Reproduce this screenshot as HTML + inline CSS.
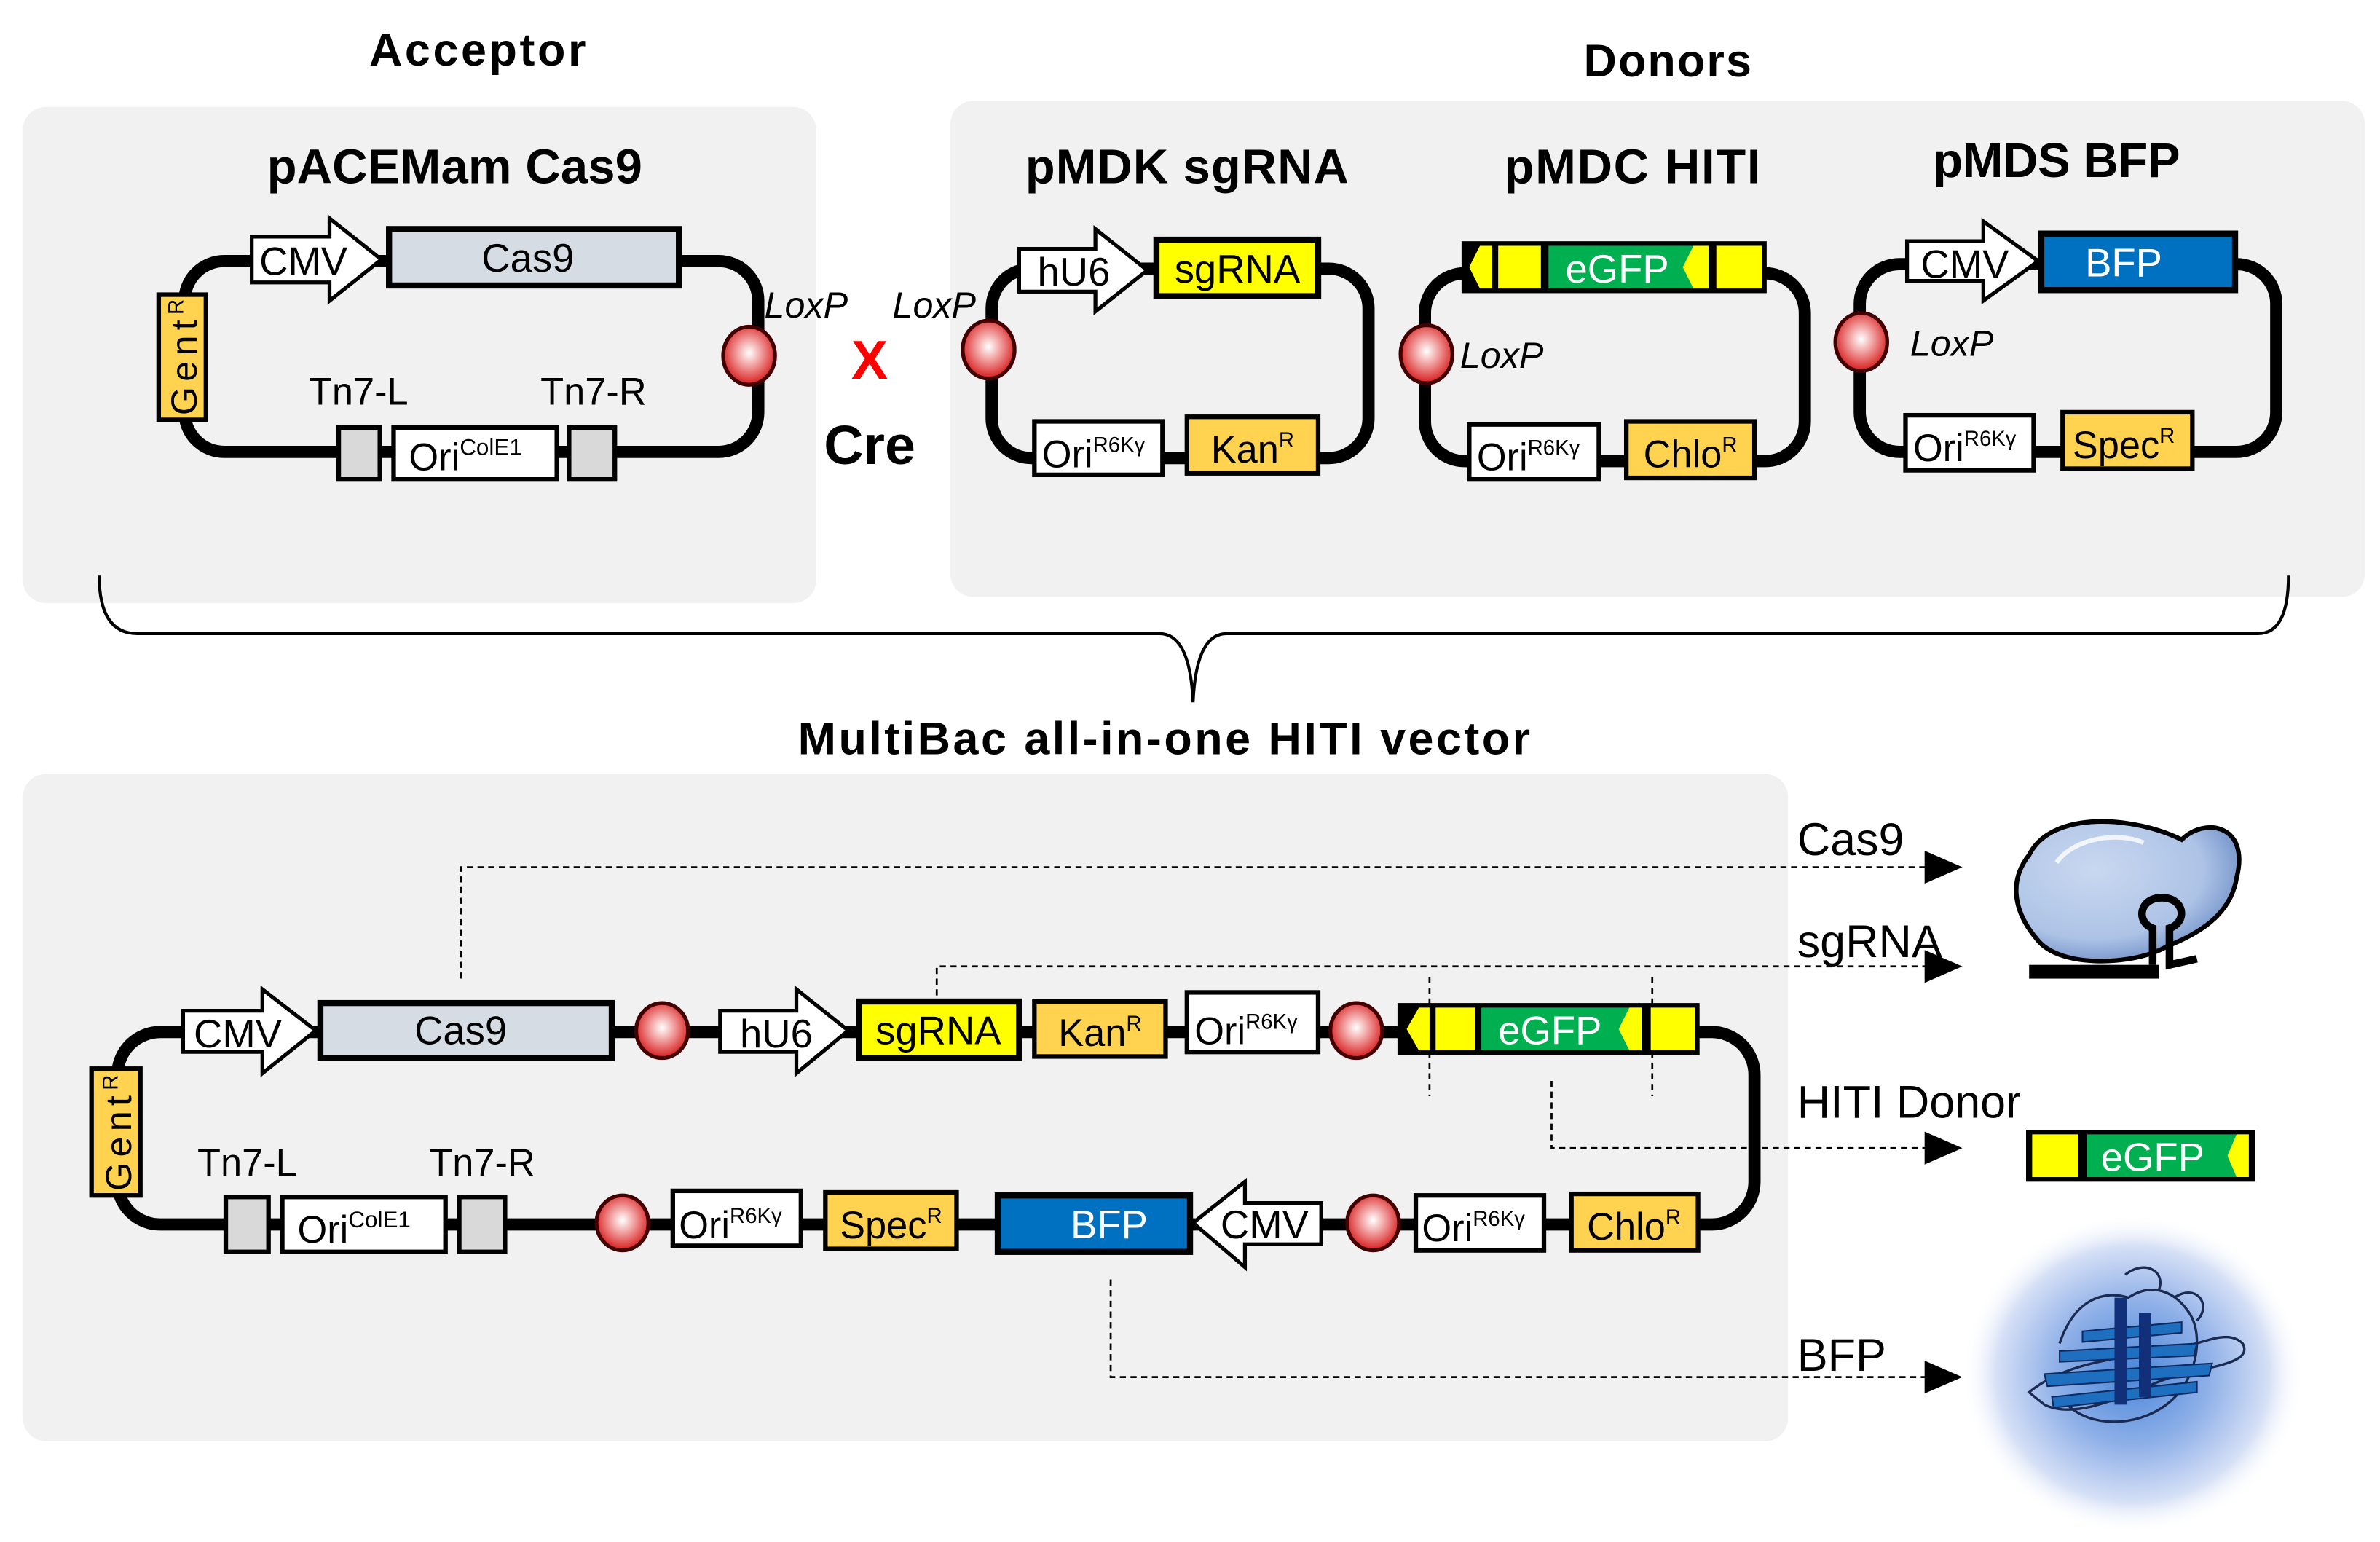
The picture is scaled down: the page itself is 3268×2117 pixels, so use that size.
<!DOCTYPE html>
<html><head><meta charset="utf-8"><style>
html,body{margin:0;padding:0;background:#fff}
svg{display:block}
text{font-family:"Liberation Sans Narrow","Liberation Sans",sans-serif}
.b{font-weight:bold}
</style></head><body>
<svg width="3268" height="2117" viewBox="0 0 1560 1010" preserveAspectRatio="none" xmlns="http://www.w3.org/2000/svg">
<defs>
<radialGradient id="lx" cx="0.5" cy="0.45" r="0.55">
<stop offset="0" stop-color="#fff"/><stop offset="0.35" stop-color="#f4b0b0"/><stop offset="1" stop-color="#d81c1c"/>
</radialGradient>
<radialGradient id="glow" cx="0.5" cy="0.5" r="0.5">
<stop offset="0" stop-color="#4a86da"/><stop offset="0.45" stop-color="#8fb0e8"/><stop offset="0.8" stop-color="#d6e0f6"/><stop offset="1" stop-color="#ffffff" stop-opacity="0"/>
</radialGradient>
<radialGradient id="cas" cx="0.35" cy="0.35" r="0.7">
<stop offset="0" stop-color="#c9d8f0"/><stop offset="0.7" stop-color="#adc3e6"/><stop offset="1" stop-color="#6f8fc8"/>
</radialGradient>
<marker id="ar" markerWidth="10" markerHeight="10" refX="9" refY="5" orient="auto" markerUnits="userSpaceOnUse"><path d="M0,0 L10,5 L0,10z" fill="#000"/></marker>
</defs>

<text x="313" y="43" font-size="30" class="b" text-anchor="middle" textLength="142">Acceptor</text>
<text x="1093" y="50" font-size="30" class="b" text-anchor="middle" textLength="110">Donors</text>

<rect x="15" y="70" width="520" height="325" rx="15" fill="#f1f1f1"/>
<rect x="623" y="66" width="927" height="325" rx="15" fill="#f1f1f1"/>

<text x="298" y="120" font-size="32" class="b" text-anchor="middle" textLength="246">pACEMam Cas9</text>
<text x="778" y="120" font-size="32" class="b" text-anchor="middle" textLength="212">pMDK sgRNA</text>
<text x="1070" y="120" font-size="32" class="b" text-anchor="middle" textLength="168">pMDC HITI</text>
<text x="1348" y="116" font-size="32" class="b" text-anchor="middle" textLength="162">pMDS BFP</text>

<rect x="121" y="171" width="376" height="125" rx="26" fill="none" stroke="#000" stroke-width="8"/>
<polygon points="165,155 216,155 216,143 250,170 216,197 216,185 165,185" fill="#fff" stroke="#000" stroke-width="2.5"/>
<text x="170" y="180" font-size="26">CMV</text>
<rect x="255" y="150" width="190" height="37" fill="#d6dce4" stroke="#000" stroke-width="4"/>
<text x="346" y="178" font-size="26" text-anchor="middle">Cas9</text>
<rect x="104" y="193" width="31" height="82" fill="#ffd24f" stroke="#000" stroke-width="3"/>
<text transform="translate(129,272) rotate(-90)" font-size="24" textLength="76">Gent<tspan font-size="14" dy="-9">R</tspan></text>
<rect x="222" y="280" width="27" height="34" fill="#d9d9d9" stroke="#000" stroke-width="3"/>
<rect x="258" y="280" width="107" height="34" fill="#fff" stroke="#000" stroke-width="3"/>
<text x="268" y="308" font-size="25">Ori<tspan font-size="15" dy="-10">ColE1</tspan></text>
<rect x="373" y="280" width="30" height="34" fill="#d9d9d9" stroke="#000" stroke-width="3"/>
<text x="235" y="265" font-size="25" text-anchor="middle">Tn7-L</text>
<text x="389" y="265" font-size="25" text-anchor="middle">Tn7-R</text>
<ellipse cx="491" cy="233" rx="17" ry="19" fill="url(#lx)" stroke="#400" stroke-width="2.5"/>
<text x="501" y="208" font-size="24" font-style="italic">LoxP</text>

<text x="585" y="208" font-size="24" font-style="italic">LoxP</text>
<text x="570" y="248" font-size="36" class="b" fill="#ff0000" text-anchor="middle">X</text>
<text x="570" y="304" font-size="36" class="b" text-anchor="middle">Cre</text>

<rect x="650" y="176" width="247" height="124" rx="26" fill="none" stroke="#000" stroke-width="8"/>
<polygon points="668,163 718,163 718,150 752,177 718,204 718,191 668,191" fill="#fff" stroke="#000" stroke-width="2.5"/>
<text x="680" y="187" font-size="26">hU6</text>
<rect x="758" y="157" width="106" height="37" fill="#ffff00" stroke="#000" stroke-width="4"/>
<text x="811" y="185" font-size="26" text-anchor="middle">sgRNA</text>
<ellipse cx="648" cy="229" rx="17" ry="19" fill="url(#lx)" stroke="#400" stroke-width="2.5"/>
<rect x="678" y="276" width="84" height="35" fill="#fff" stroke="#000" stroke-width="3"/>
<text x="683" y="306" font-size="25">Ori<tspan font-size="14" dy="-10">R6Kγ</tspan></text>
<rect x="778" y="273" width="86" height="37" fill="#ffd24f" stroke="#000" stroke-width="3"/>
<text x="821" y="303" font-size="25" text-anchor="middle">Kan<tspan font-size="14" dy="-10">R</tspan></text>

<rect x="934" y="179" width="249" height="123" rx="26" fill="none" stroke="#000" stroke-width="8"/>
<g>
<rect x="958" y="158" width="200" height="34" fill="#000"/>
<polygon points="970,161 978,161 978,189 970,189 963,175" fill="#ffff00"/>
<rect x="982" y="161" width="28" height="28" fill="#ffff00"/>
<rect x="1015" y="161" width="105" height="28" fill="#00b050"/>
<polygon points="1120,161 1110,161 1103,175 1110,189 1120,189" fill="#ffff00"/>
<rect x="1125" y="161" width="30" height="28" fill="#ffff00"/>
<text x="1060" y="185" font-size="26" fill="#fff" text-anchor="middle">eGFP</text>
</g>
<ellipse cx="935" cy="232" rx="17" ry="19" fill="url(#lx)" stroke="#400" stroke-width="2.5"/>
<text x="957" y="241" font-size="24" font-style="italic">LoxP</text>
<rect x="963" y="278" width="85" height="36" fill="#fff" stroke="#000" stroke-width="3"/>
<text x="968" y="308" font-size="25">Ori<tspan font-size="14" dy="-10">R6Kγ</tspan></text>
<rect x="1066" y="276" width="84" height="37" fill="#ffd24f" stroke="#000" stroke-width="3"/>
<text x="1108" y="306" font-size="25" text-anchor="middle">Chlo<tspan font-size="14" dy="-10">R</tspan></text>

<rect x="1219" y="173" width="273" height="123" rx="26" fill="none" stroke="#000" stroke-width="8"/>
<polygon points="1250,158 1300,158 1300,145 1336,171 1300,197 1300,184 1250,184" fill="#fff" stroke="#000" stroke-width="2.5"/>
<text x="1259" y="182" font-size="26">CMV</text>
<rect x="1338" y="153" width="127" height="37" fill="#0070c0" stroke="#000" stroke-width="4"/>
<text x="1392" y="181" font-size="26" fill="#fff" text-anchor="middle">BFP</text>
<ellipse cx="1220" cy="224" rx="17" ry="19" fill="url(#lx)" stroke="#400" stroke-width="2.5"/>
<text x="1252" y="233" font-size="24" font-style="italic">LoxP</text>
<rect x="1249" y="272" width="84" height="36" fill="#fff" stroke="#000" stroke-width="3"/>
<text x="1254" y="302" font-size="25">Ori<tspan font-size="14" dy="-10">R6Kγ</tspan></text>
<rect x="1352" y="270" width="85" height="37" fill="#ffd24f" stroke="#000" stroke-width="3"/>
<text x="1392" y="300" font-size="25" text-anchor="middle">Spec<tspan font-size="14" dy="-10">R</tspan></text>

<path d="M65,377 Q65,415 90,415 L760,415 Q780,415 782,460 Q784,415 804,415 L1480,415 Q1500,415 1500,377" fill="none" stroke="#000" stroke-width="2"/>

<text x="763" y="494" font-size="30" class="b" text-anchor="middle" textLength="480">MultiBac all-in-one HITI vector</text>

<rect x="15" y="507" width="1157" height="437" rx="15" fill="#f1f1f1"/>

<g fill="none" stroke="#000" stroke-width="1.3" stroke-dasharray="4,3">
<path d="M302,641 L302,568 L1276,568" marker-end="url(#ar)"/>
<path d="M614,652 L614,633 L1276,633" marker-end="url(#ar)"/>
<path d="M1017,708 L1017,752 L1276,752" marker-end="url(#ar)"/>
<path d="M728,838 L728,902 L1276,902" marker-end="url(#ar)"/>
<path d="M937,640 L937,718"/>
<path d="M1083,640 L1083,718"/>
</g>
<g stroke="#000"><path d="M1262,558 L1285,568 L1262,578z"/><path d="M1262,623 L1285,633 L1262,643z"/><path d="M1262,742 L1285,752 L1262,762z"/><path d="M1262,892 L1285,902 L1262,912z"/></g>

<text x="1178" y="560" font-size="30">Cas9</text>
<text x="1178" y="627" font-size="30">sgRNA</text>
<text x="1178" y="732" font-size="30">HITI Donor</text>
<text x="1178" y="898" font-size="30">BFP</text>

<rect x="77" y="676" width="1073" height="126" rx="28" fill="none" stroke="#000" stroke-width="8"/>
<polygon points="120,662 172,662 172,648 207,675 172,703 172,689 120,689" fill="#fff" stroke="#000" stroke-width="2.5"/>
<text x="127" y="686" font-size="26">CMV</text>
<rect x="210" y="657" width="191" height="36" fill="#d6dce4" stroke="#000" stroke-width="4"/>
<text x="302" y="684" font-size="26" text-anchor="middle">Cas9</text>
<ellipse cx="434" cy="675" rx="17" ry="18" fill="url(#lx)" stroke="#400" stroke-width="2.5"/>
<polygon points="472,662 522,662 522,648 556,675 522,703 522,689 472,689" fill="#fff" stroke="#000" stroke-width="2.5"/>
<text x="485" y="686" font-size="26">hU6</text>
<rect x="563" y="656" width="105" height="37" fill="#ffff00" stroke="#000" stroke-width="4"/>
<text x="615" y="684" font-size="26" text-anchor="middle">sgRNA</text>
<rect x="678" y="656" width="86" height="36" fill="#ffd24f" stroke="#000" stroke-width="3"/>
<text x="721" y="685" font-size="25" text-anchor="middle">Kan<tspan font-size="14" dy="-10">R</tspan></text>
<rect x="778" y="650" width="86" height="39" fill="#fff" stroke="#000" stroke-width="3"/>
<text x="783" y="684" font-size="25">Ori<tspan font-size="14" dy="-10">R6Kγ</tspan></text>
<ellipse cx="889" cy="675" rx="17" ry="18" fill="url(#lx)" stroke="#400" stroke-width="2.5"/>
<g>
<rect x="916" y="657" width="198" height="34" fill="#000"/>
<polygon points="930,660 937,660 937,688 930,688 922,674" fill="#ffff00"/>
<rect x="941" y="660" width="26" height="28" fill="#ffff00"/>
<rect x="971" y="660" width="105" height="28" fill="#00b050"/>
<polygon points="1076,660 1068,660 1061,674 1068,688 1076,688" fill="#ffff00"/>
<rect x="1082" y="660" width="29" height="28" fill="#ffff00"/>
<text x="1016" y="684" font-size="26" fill="#fff" text-anchor="middle">eGFP</text>
</g>
<rect x="60" y="700" width="32" height="83" fill="#ffd24f" stroke="#000" stroke-width="3"/>
<text transform="translate(86,780) rotate(-90)" font-size="24" textLength="76">Gent<tspan font-size="14" dy="-9">R</tspan></text>
<text x="162" y="770" font-size="25" text-anchor="middle">Tn7-L</text>
<text x="316" y="770" font-size="25" text-anchor="middle">Tn7-R</text>
<rect x="148" y="784" width="28" height="36" fill="#d9d9d9" stroke="#000" stroke-width="3"/>
<rect x="185" y="784" width="107" height="36" fill="#fff" stroke="#000" stroke-width="3"/>
<text x="195" y="814" font-size="25">Ori<tspan font-size="15" dy="-10">ColE1</tspan></text>
<rect x="301" y="784" width="30" height="36" fill="#d9d9d9" stroke="#000" stroke-width="3"/>
<ellipse cx="408" cy="801" rx="17" ry="18" fill="url(#lx)" stroke="#400" stroke-width="2.5"/>
<rect x="441" y="780" width="84" height="36" fill="#fff" stroke="#000" stroke-width="3"/>
<text x="445" y="811" font-size="25">Ori<tspan font-size="14" dy="-10">R6Kγ</tspan></text>
<rect x="541" y="781" width="86" height="37" fill="#ffd24f" stroke="#000" stroke-width="3"/>
<text x="584" y="811" font-size="25" text-anchor="middle">Spec<tspan font-size="14" dy="-10">R</tspan></text>
<rect x="654" y="783" width="126" height="37" fill="#0070c0" stroke="#000" stroke-width="4"/>
<text x="727" y="811" font-size="26" fill="#fff" text-anchor="middle">BFP</text>
<polygon points="866,788 816,788 816,774 782,801 816,830 816,815 866,815" fill="#fff" stroke="#000" stroke-width="2.5"/>
<text x="800" y="811" font-size="26">CMV</text>
<ellipse cx="900" cy="801" rx="17" ry="18" fill="url(#lx)" stroke="#400" stroke-width="2.5"/>
<rect x="928" y="783" width="84" height="36" fill="#fff" stroke="#000" stroke-width="3"/>
<text x="932" y="813" font-size="25">Ori<tspan font-size="14" dy="-10">R6Kγ</tspan></text>
<rect x="1030" y="782" width="83" height="37" fill="#ffd24f" stroke="#000" stroke-width="3"/>
<text x="1071" y="812" font-size="25" text-anchor="middle">Chlo<tspan font-size="14" dy="-10">R</tspan></text>

<path d="M1330,560 C1345,530 1400,535 1430,550 C1445,535 1475,540 1466,575 C1462,600 1440,612 1420,620 C1400,632 1350,635 1335,615 C1318,595 1318,575 1330,560 Z" fill="url(#cas)" stroke="#000" stroke-width="3"/>
<path d="M1348,565 C1360,548 1390,545 1405,552" fill="none" stroke="#fff" stroke-width="3" opacity="0.8"/>
<rect x="1330" y="632" width="85" height="9" fill="#000"/>
<path d="M1411,632 L1411,608 C1400,604 1402,588 1417,588 C1432,588 1434,604 1422,608 L1422,632 L1440,628" fill="none" stroke="#000" stroke-width="5"/>

<rect x="1328" y="740" width="150" height="34" fill="#000"/>
<rect x="1332" y="743" width="30" height="28" fill="#ffff00"/>
<rect x="1368" y="743" width="106" height="28" fill="#00b050"/>
<polygon points="1474,743 1466,743 1460,757 1466,771 1474,771" fill="#ffff00"/>
<text x="1411" y="767" font-size="26" fill="#fff" text-anchor="middle">eGFP</text>

<ellipse cx="1398" cy="900" rx="112" ry="105" fill="url(#glow)"/>
<g fill="none" stroke="#1a2a50" stroke-width="1.6">
<path d="M1330,912 C1350,895 1380,890 1420,885 C1445,880 1460,870 1470,880 C1478,895 1440,895 1415,905 C1390,915 1360,930 1340,920 Z"/>
<path d="M1350,880 C1360,850 1380,845 1395,850 C1410,840 1425,845 1435,860 C1445,875 1440,905 1420,920 C1400,935 1370,935 1355,920"/>
<path d="M1393,835 C1405,825 1420,832 1415,845 M1425,850 C1440,840 1450,855 1440,865"/>
</g>
<g fill="#1f6fc0" stroke="#0d2a60" stroke-width="1">
<path d="M1350,885 L1440,880 L1438,888 L1350,892z"/>
<path d="M1340,900 L1450,893 L1448,901 L1342,908z"/>
<path d="M1345,915 L1440,905 L1440,912 L1346,922z"/>
<path d="M1365,872 L1430,866 L1430,873 L1365,879z"/>
</g>
<g fill="#12307a"><path d="M1386,850 L1394,850 L1394,920 L1386,920z"/><path d="M1402,860 L1410,860 L1410,915 L1402,915z"/></g>
</svg>
</body></html>
